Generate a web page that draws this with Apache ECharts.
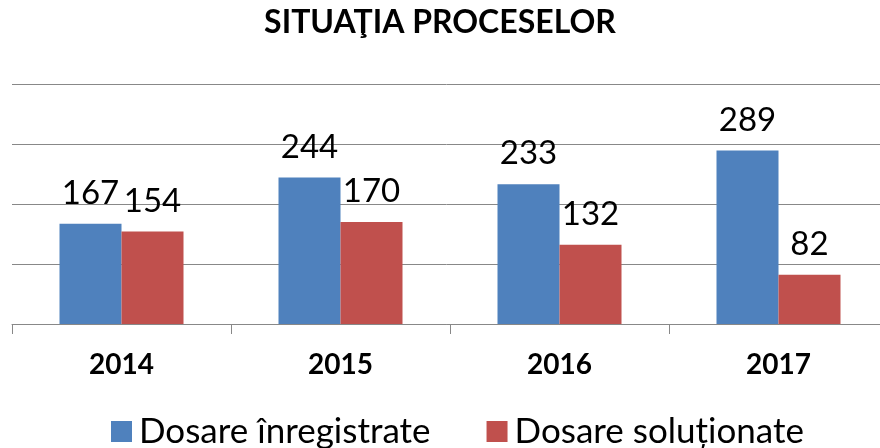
<!DOCTYPE html>
<html>
<head>
<meta charset="utf-8">
<script src="https://cdn.jsdelivr.net/npm/echarts@6/dist/echarts.min.js"></script>
<style>
html,body{margin:0;padding:0;background:#fff;}
#chart{width:880px;height:448px;}
</style>
</head>
<body>
<div id="chart"></div>
<script>
const titleText = 'SITUAŢIA PROCESELOR';
const categories = ['2014', '2015', '2016', '2017'];
const seriesNames = ['Dosare înregistrate', 'Dosare soluționate'];
const registered = [167, 244, 233, 289];
const solved = [154, 170, 132, 82];

const FONT = 'Lato';
const chart = echarts.init(document.getElementById('chart'), null, {renderer: 'canvas'});
chart.setOption({
  animation: false,
  backgroundColor: '#fff',
  color: ['#4F81BD', '#C0504D'],
  title: {
    text: titleText,
    left: 'center',
    top: 2,
    textStyle: {fontFamily: FONT, fontWeight: 'bold', fontSize: 32, color: '#000'}
  },
  legend: {
    data: seriesNames,
    left: 106,
    top: 409,
    itemWidth: 21,
    itemHeight: 21,
    itemGap: 56,
    icon: 'rect',
    textStyle: {fontFamily: FONT, fontSize: 35, color: '#000', padding: [0, 0, 0, 2]}
  },
  grid: {left: 12, width: 876, top: 84, bottom: 124, containLabel: false, outerBoundsMode: 'none'},
  xAxis: {
    type: 'category',
    data: categories,
    axisLine: {lineStyle: {color: '#888', width: 1}},
    axisTick: {show: true, length: 10, lineStyle: {color: '#888'}},
    axisLabel: {fontFamily: FONT, fontWeight: 'bold', fontSize: 28, color: '#000', margin: 27}
  },
  yAxis: {
    type: 'value',
    min: 0,
    max: 400,
    interval: 100,
    axisLabel: {show: false},
    axisLine: {show: false},
    axisTick: {show: false},
    splitLine: {lineStyle: {color: '#888', width: 1}}
  },
  series: [
    {
      name: seriesNames[0], type: 'bar', data: registered, barWidth: 62, barGap: '0%',
      label: {show: true, position: 'top', distance: 14, fontFamily: FONT, fontSize: 33, color: '#000'}
    },
    {
      name: seriesNames[1], type: 'bar', data: solved, barWidth: 62, barGap: '0%',
      label: {show: true, position: 'top', distance: 14, fontFamily: FONT, fontSize: 33, color: '#000'}
    }
  ]
});
</script>
</body>
</html>
